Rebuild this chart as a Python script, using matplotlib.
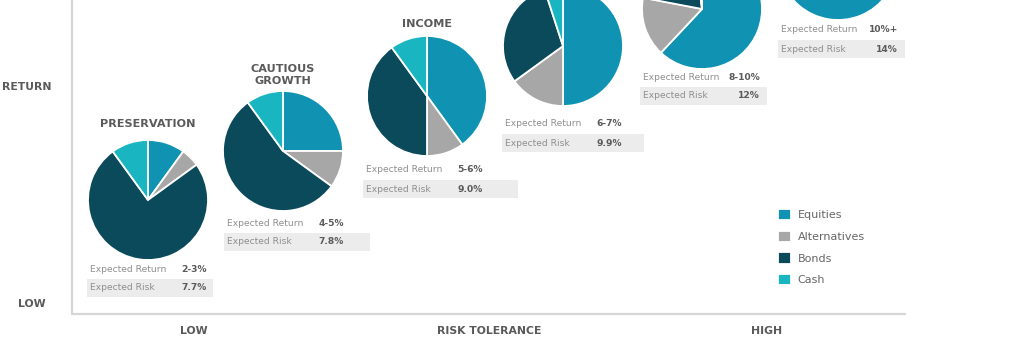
import matplotlib.pyplot as plt

# asset mix of each portfolio, in percent
asset_classes = ["Equities", "Alternatives", "Bonds", "Cash"]
portfolio_names = ["PRESERVATION", "CAUTIOUS\nGROWTH", "INCOME", "", "", ""]
allocations = [
    [10, 5, 75, 10],
    [25, 10, 55, 10],
    [40, 10, 40, 10],
    [50, 15, 30, 5],
    [62, 16, 20, 2],
    [70, 20, 5, 5],
]
expected_return = ["2-3%", "4-5%", "5-6%", "6-7%", "8-10%", "10%+"]
expected_risk = ["7.7%", "7.8%", "9.0%", "9.9%", "12%", "14%"]

colors = ["#1093b3", "#a7a7a7", "#0b4a5b", "#19b6c2"]
TEXT_DARK = "#5a5a5a"
TEXT_LIGHT = "#8e8e8e"

# pixel layout: pie centre, radius, title y, info box (x, y, width)
pie_centres = [(148, 200), (283, 151), (427, 96), (563, 46), (702, 9), (838, -40)]
pie_radius = 60
title_y = [124, 75, 24, None, None, None]
box_x = [87, 224, 363, 502, 640, 778]
box_y = [269, 223, 170, 124, 77, 30]
box_w = [126, 146, 155, 142, 127, 127]


def main():
    fig = plt.figure(figsize=(10.33, 3.45), dpi=100)
    ax = fig.add_axes([0, 0, 1, 1])

    wedges = None
    for i, mix in enumerate(allocations):
        w, _ = ax.pie(mix, colors=colors, center=pie_centres[i], radius=pie_radius,
                      startangle=-90, counterclock=True, frame=True,
                      wedgeprops={"edgecolor": "white", "linewidth": 1.3})
        if wedges is None:
            wedges = w

        cx, cy = pie_centres[i]
        if title_y[i] is not None:
            ax.text(cx, title_y[i], portfolio_names[i], ha="center", va="center",
                    fontsize=8.1, fontweight="bold", color=TEXT_DARK, linespacing=1.3)

        bx, by, bw = box_x[i], box_y[i], box_w[i]
        ax.add_patch(plt.Rectangle((bx, by + 10), bw, 18, facecolor="#ececec",
                                   edgecolor="none", zorder=0))
        ax.text(bx + 3, by, "Expected Return", ha="left", va="center",
                fontsize=6.6, color=TEXT_LIGHT)
        ax.text(bx + 3, by + 19, "Expected Risk", ha="left", va="center",
                fontsize=6.6, color=TEXT_LIGHT)
        ax.text(bx + 120, by, expected_return[i], ha="right", va="center",
                fontsize=6.6, fontweight="bold", color=TEXT_DARK)
        ax.text(bx + 120, by + 19, expected_risk[i], ha="right", va="center",
                fontsize=6.6, fontweight="bold", color=TEXT_DARK)

    # axes of the risk/return chart
    ax.plot([72, 72], [0, 313], color="#d6d6d6", lw=1.6, solid_capstyle="butt")
    ax.plot([71, 906], [313.5, 313.5], color="#d6d6d6", lw=1.6, solid_capstyle="butt")

    label_style = dict(fontsize=7.8, fontweight="bold", color=TEXT_DARK, va="center")
    ax.text(2, 87, "RETURN", ha="left", **label_style)
    ax.text(32, 304, "LOW", ha="center", **label_style)
    ax.text(194, 331, "LOW", ha="center", **label_style)
    ax.text(489, 331, "RISK TOLERANCE", ha="center", **label_style)
    ax.text(767, 331, "HIGH", ha="center", **label_style)

    leg = ax.legend(wedges, asset_classes, loc="upper left",
                    bbox_to_anchor=(778 / 1033, 1 - 209 / 345), frameon=False,
                    fontsize=8, handlelength=1.2, handleheight=1.2,
                    handletextpad=0.55, labelspacing=0.92, borderpad=0, borderaxespad=0)
    for t in leg.get_texts():
        t.set_color("#666666")

    ax.set_aspect("auto")
    ax.set_xlim(0, 1033)
    ax.set_ylim(345, 0)
    ax.axis("off")
    fig.savefig("out.png", dpi=100, facecolor="white")


if __name__ == '__main__':
    main()
